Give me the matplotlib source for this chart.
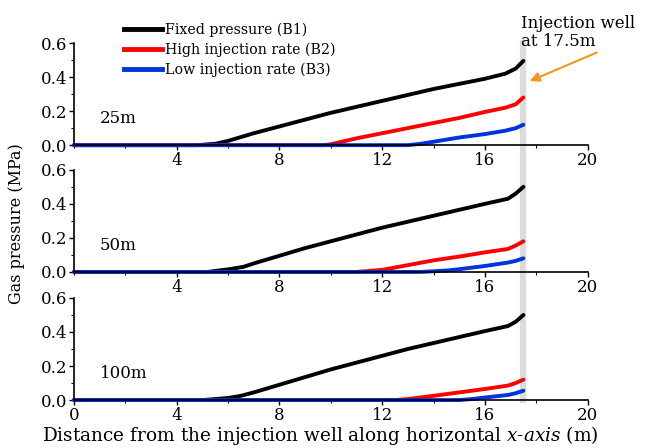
import matplotlib.pyplot as plt
import numpy as np
from matplotlib.lines import Line2D
from matplotlib.ticker import MultipleLocator

plt.rcParams['font.family'] = 'DejaVu Serif'
plt.rcParams['mathtext.fontset'] = 'dejavuserif'

# distances (m) and gas pressure (MPa)
panel_names = ["25m", "50m", "100m"]

x_b1_25 = [0, 4.8, 5.5, 6, 7, 8, 9, 10, 11, 12, 13, 14, 15, 16, 16.8, 17.2, 17.5]
y_b1_25 = [0, 0, 0.008, 0.025, 0.07, 0.11, 0.15, 0.19, 0.225, 0.26, 0.295, 0.33, 0.36, 0.39, 0.42, 0.45, 0.495]
x_b2_25 = [0, 9.7, 10, 11, 12, 13, 14, 15, 16, 16.8, 17.2, 17.5]
y_b2_25 = [0, 0, 0.005, 0.04, 0.07, 0.1, 0.13, 0.16, 0.195, 0.22, 0.24, 0.28]
x_b3_25 = [0, 13.0, 13.5, 14, 15, 16, 16.8, 17.2, 17.5]
y_b3_25 = [0, 0, 0.008, 0.02, 0.045, 0.065, 0.085, 0.1, 0.12]

x_b1_50 = [0, 5.2, 6.0, 6.6, 7, 8, 9, 10, 11, 12, 13, 14, 15, 16, 16.9, 17.2, 17.5]
y_b1_50 = [0, 0, 0.015, 0.03, 0.05, 0.095, 0.14, 0.18, 0.22, 0.26, 0.295, 0.33, 0.365, 0.4, 0.43, 0.46, 0.5]
x_b2_50 = [0, 11.0, 12, 13, 14, 15, 16, 16.9, 17.2, 17.5]
y_b2_50 = [0, 0, 0.012, 0.04, 0.068, 0.09, 0.115, 0.135, 0.155, 0.18]
x_b3_50 = [0, 13.5, 14.5, 15, 16, 16.9, 17.2, 17.5]
y_b3_50 = [0, 0, 0.008, 0.016, 0.035, 0.055, 0.065, 0.08]

x_b1_100 = [0, 5.0, 6.0, 6.5, 7, 8, 9, 10, 11, 12, 13, 14, 15, 16, 16.9, 17.2, 17.5]
y_b1_100 = [0, 0, 0.012, 0.025, 0.045, 0.09, 0.135, 0.18, 0.22, 0.26, 0.3, 0.335, 0.37, 0.405, 0.435, 0.46, 0.5]
x_b2_100 = [0, 12.5, 13, 14, 15, 16, 16.9, 17.2, 17.5]
y_b2_100 = [0, 0, 0.006, 0.025, 0.045, 0.065, 0.085, 0.1, 0.12]
x_b3_100 = [0, 15.0, 15.5, 16, 16.9, 17.2, 17.5]
y_b3_100 = [0, 0, 0.006, 0.015, 0.03, 0.04, 0.055]

series = [
    [(x_b1_25, y_b1_25), (x_b2_25, y_b2_25), (x_b3_25, y_b3_25)],
    [(x_b1_50, y_b1_50), (x_b2_50, y_b2_50), (x_b3_50, y_b3_50)],
    [(x_b1_100, y_b1_100), (x_b2_100, y_b2_100), (x_b3_100, y_b3_100)],
]
labels = ["Fixed pressure (B1)", "High injection rate (B2)", "Low injection rate (B3)"]
colors = ["black", "#ff0000", "#0033dd"]
well_x = 17.5

fig = plt.figure(figsize=(6.46, 4.48), dpi=100)

left, width, height = 0.1146, 0.795, 0.228
bottoms = [0.676, 0.393, 0.107]
axes = []
for i, b in enumerate(bottoms):
    ax = fig.add_axes([left, b, width, height])
    axes.append(ax)
    ax.axvline(well_x, color="#dcdcdc", lw=4.5, zorder=0)
    for (xs, ys), c in zip(series[i], colors):
        ax.plot(xs, ys, color=c, lw=2.8, clip_on=False, solid_capstyle="round")
    ax.set_xlim(0, 20)
    ax.set_ylim(0, 0.6)
    ax.spines["top"].set_visible(False)
    ax.spines["right"].set_visible(False)
    ax.spines["left"].set_linewidth(1.2)
    ax.spines["bottom"].set_linewidth(1.2)
    ax.xaxis.set_minor_locator(MultipleLocator(2))
    ax.yaxis.set_minor_locator(MultipleLocator(0.1))
    ax.set_yticks([0, 0.2, 0.4, 0.6])
    ax.set_yticklabels(["0.0", "0.2", "0.4", "0.6"])
    if i < 2:
        ax.set_xticks([4, 8, 12, 16, 20])
    else:
        ax.set_xticks([0, 4, 8, 12, 16, 20])
    ax.tick_params(which="major", length=3.5, width=1, labelsize=12, pad=1.5)
    ax.tick_params(which="minor", length=2, width=0.8)
    ax.text(1.0, 0.13, panel_names[i], fontsize=12)

# gray well line spanning the gaps between the panels
xf = left + width * well_x / 20
fig.add_artist(Line2D([xf, xf], [bottoms[2], bottoms[0] + height], color="#dcdcdc", lw=4.5, zorder=0))

handles = [Line2D([], [], color=c, lw=3.5) for c in colors]
fig.legend(handles, labels, loc="upper left", bbox_to_anchor=(0.183, 0.962), frameon=False,
           fontsize=10.2, handlelength=2.7, handletextpad=0.2, labelspacing=0.4, borderaxespad=0)

axes[0].text(17.4, 0.56, "Injection well\nat 17.5m", fontsize=12, va="bottom", ha="left", linespacing=1.05)
axes[0].annotate("", xy=(17.65, 0.37), xytext=(20.45, 0.55), annotation_clip=False,
                 arrowprops=dict(arrowstyle="-|>", color="#f7941d", lw=1.5, mutation_scale=14))

fig.text(0.495, 0.027, "Distance from the injection well along horizontal $\\mathit{x}$-$\\mathit{axis}$ (m)",
         ha="center", va="center", fontsize=13.3)
fig.text(0.025, 0.5, "Gas pressure (MPa)", rotation=90, va="center", ha="center", fontsize=11.5)

fig.savefig("out.png", dpi=100)
